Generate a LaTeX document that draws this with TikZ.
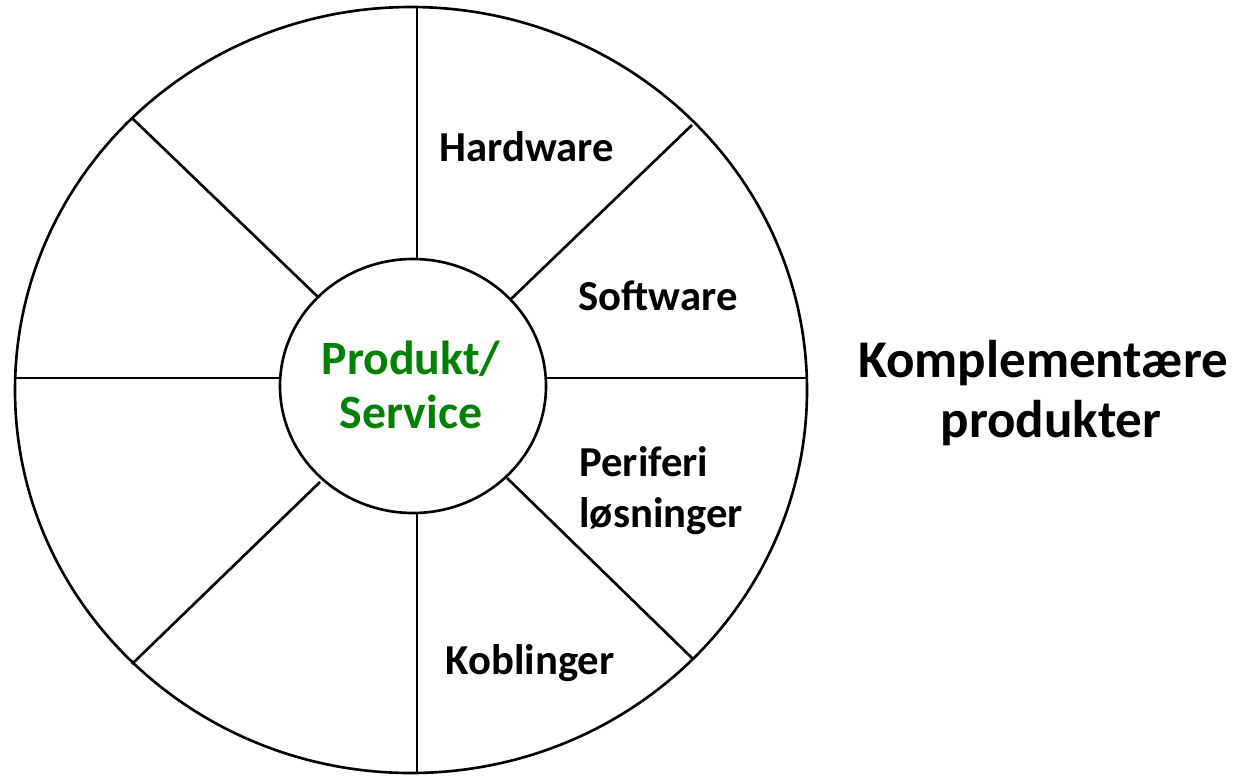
\documentclass[tikz,border=0pt]{standalone}
\usepackage{fontspec}
\setmainfont{Carlito}
\definecolor{prodgreen}{RGB}{0,128,0}
\begin{document}
\begin{tikzpicture}[x=0.02cm,y=-0.02cm,
  wheel/.style={line width=1.5pt,black},
  seglabel/.style={font=\bfseries\fontsize{24.3}{29}\selectfont,inner sep=0pt},
  hublabel/.style={font=\bfseries\fontsize{27.2}{30.5}\selectfont,inner sep=0pt,align=center},
  biglabel/.style={font=\bfseries\fontsize{30.2}{34}\selectfont,inner sep=0pt,align=center}]
\useasboundingbox (0,0) rectangle (1238,775);
% outer wheel and hub
\draw[wheel] (411,390) ellipse [x radius=396, y radius=383];
% spokes
\draw[wheel] (417,7) -- (417,259);
\draw[wheel] (417,513) -- (417,773);
\draw[wheel] (15,378) -- (280,378);
\draw[wheel] (546,378) -- (806,378);
\draw[wheel] (510,300) -- (692,125);
\draw[wheel] (318,297) -- (133,119);
\draw[wheel] (320,482) -- (132,664);
\draw[wheel] (507,478) -- (693,659);
\draw[wheel,fill=white] (413,386) ellipse [x radius=133, y radius=127];
% labels
\node[hublabel,text=prodgreen] (core) at (411,385) {Produkt/\\Service};
\node[seglabel] (hw) at (527,147) {Hardware};
\node[seglabel] (sw) at (658,296) {Software};
\node[seglabel,align=left,anchor=west] (per) at (579,491) {Periferi\\løsninger};
\node[seglabel] (kob) at (530,663) {Koblinger};
\node[biglabel] (comp) at (1043,393) {Komplementære\\\hspace*{0.32cm}produkter};
\end{tikzpicture}
\end{document}
